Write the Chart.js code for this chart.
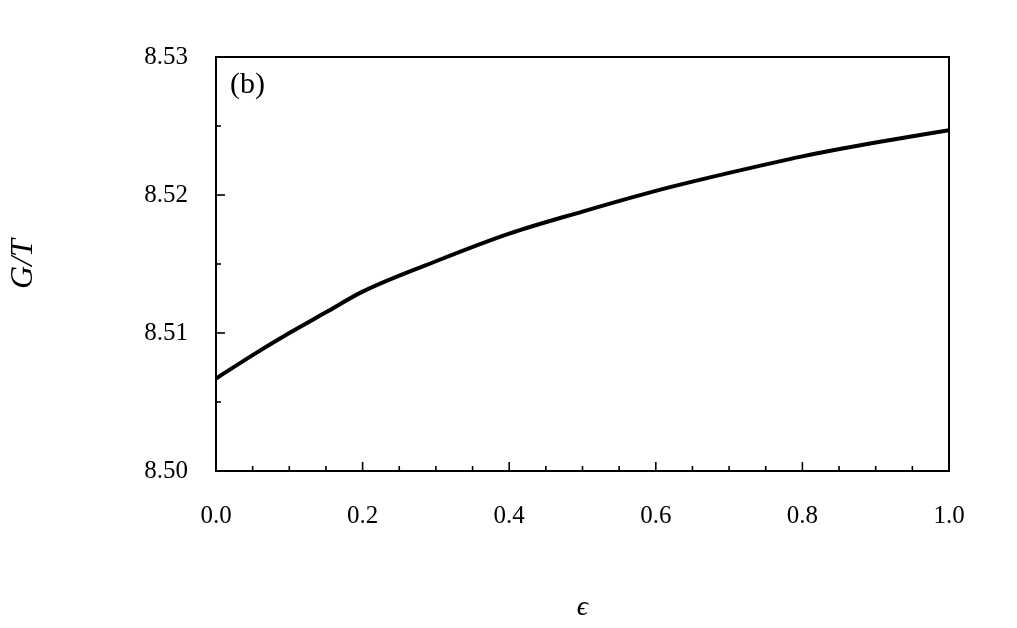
<!DOCTYPE html>
<html><head><script src="https://cdn.jsdelivr.net/npm/chart.js@4"></script>
<style>body{margin:0;background:#fff}#w{width:1017px;height:628px}</style></head>
<body><div id="w"><canvas id="c"></canvas></div>
<script>
const epsilon=[0,0.05,0.1,0.15,0.2,0.3,0.4,0.5,0.6,0.7,0.8,0.9,1.0];
const gOverT=[8.5067,8.5084,8.5100,8.5115,8.5130,8.5152,8.5172,8.5188,8.5203,8.5216,8.5228,8.5238,8.5247];
const xTicks=[0,0.2,0.4,0.6,0.8,1.0];
const yTicks=[8.50,8.51,8.52,8.53];
const FONT="'Liberation Serif', 'DejaVu Serif', serif";
const frame={id:'frame',afterDraw(ch){
  const c=ch.ctx,a=ch.chartArea,x=ch.scales.x,y=ch.scales.y;
  c.save();c.strokeStyle='#000';c.lineWidth=2;
  c.strokeRect(a.left,a.top,a.right-a.left,a.bottom-a.top);
  c.lineWidth=1.6;
  for(let i=0;i<=20;i++){const v=i*0.05,p=x.getPixelForValue(v),L=i%4===0?9:5;
    c.beginPath();c.moveTo(p,a.bottom);c.lineTo(p,a.bottom-L);c.stroke();}
  for(let i=0;i<=6;i++){const v=8.50+i*0.005,p=y.getPixelForValue(v),L=i%2===0?9:5;
    c.beginPath();c.moveTo(a.left,p);c.lineTo(a.left+L,p);c.stroke();}
  c.fillStyle='#000';c.font='30px '+FONT;c.textBaseline='top';c.fillText('(b)',230,70);
  c.restore();}};
new Chart(document.getElementById('c'),{type:'line',
 data:{datasets:[{data:epsilon.map((e,i)=>({x:e,y:gOverT[i]})),borderColor:'#000',borderWidth:4,pointRadius:0,tension:0.4,cubicInterpolationMode:'monotone'}]},
 plugins:[frame],
 options:{responsive:true,maintainAspectRatio:false,animation:false,
  layout:{padding:{top:57,right:68,left:0,bottom:0}},
  plugins:{legend:{display:false},tooltip:{enabled:false}},
  scales:{
   x:{type:'linear',min:0,max:1,afterFit:s=>{s.height=157},
      afterBuildTicks:s=>{s.ticks=xTicks.map(v=>({value:v}))},
      grid:{display:false},border:{display:false},
      ticks:{color:'#000',padding:22,font:{family:FONT,size:25},callback:v=>v.toFixed(1),maxRotation:0},
      title:{display:true,text:'ϵ',color:'#000',font:{family:FONT,size:28,style:'italic'},padding:{top:14}}},
   y:{type:'linear',min:8.50,max:8.53,afterFit:s=>{s.width=216},
      afterBuildTicks:s=>{s.ticks=yTicks.map(v=>({value:v}))},
      grid:{display:false},border:{display:false},
      ticks:{color:'#000',padding:20,font:{family:FONT,size:25},callback:v=>v.toFixed(2)},
      title:{display:true,text:'G/T',color:'#000',font:{family:FONT,size:32,style:'italic'},padding:{bottom:6}}}}}});
</script></body></html>
